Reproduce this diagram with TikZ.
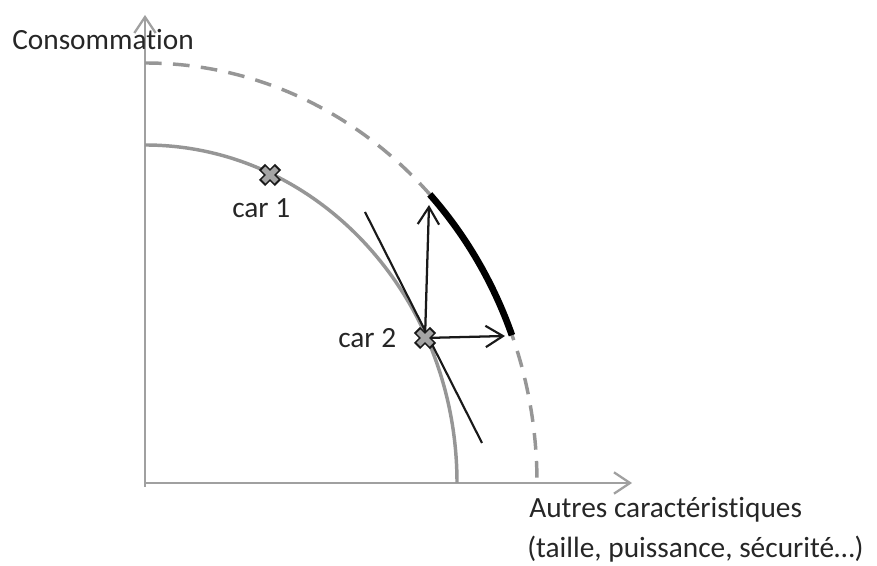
\documentclass[tikz,border=0pt]{standalone}
\usepackage{fontspec}
\setmainfont{Carlito}[Ligatures=NoCommon]
\usetikzlibrary{arrows.meta}
\definecolor{axisgray}{RGB}{160,160,160}
\definecolor{curvegray}{RGB}{150,150,150}
\definecolor{markgray}{RGB}{165,165,165}
\tikzset{
  axis/.style={draw=axisgray, line width=2.2pt,
    -{Straight Barb[length=12pt,width=16pt,line width=1.7pt]}},
  frontier/.style={draw=curvegray, line width=2.6pt},
  shift arrow/.style={draw=black!90, line width=1.7pt,
    -{Straight Barb[length=13pt,width=16pt,line width=1.6pt]}},
  label text/.style={font=\fontsize{22}{30}\selectfont, text=black!85, inner sep=0pt}
}
\begin{document}
\begin{tikzpicture}[x=0.75pt,y=0.75pt]
  \useasboundingbox (0,0) rectangle (877,566);
  % axes
  \coordinate (O) at (145,83);
  \coordinate (ytop) at (145,551);
  \coordinate (xend) at (632,83);
  \draw[axis] (145,79) -- (ytop);
  \draw[axis] (O) -- (xend);
  \node[label text, anchor=base west] (ylab) at (12,516) {Consommation};
  \node[label text, anchor=base west] (xlab) at (529,48) {Autres caractéristiques};
  \node[label text, anchor=base west] (xlab2) at (527,8) {(taille, puissance, sécurité…)};
  % frontiers
  \draw[frontier] (O) ++(0,338) arc[start angle=90, end angle=0, x radius=312, y radius=338];
  \draw[frontier, dash pattern=on 12.5pt off 8.5pt] (O) ++(0,420)
    arc[start angle=90, end angle=0, x radius=392, y radius=420];
  % new reachable part
  \draw[line width=5pt] (O) ++(43.4:392 and 420)
    arc[start angle=43.4, end angle=20.6, x radius=392, y radius=420];
  % tangent at car 2
  \coordinate (car1) at (270,391);
  \coordinate (car2) at (425,228);
  \coordinate (tanA) at (365,354);
  \coordinate (tanB) at (482,123);
  \draw[black!90, line width=1.6pt] (tanA) -- (tanB);
  % shifts
  \coordinate (upEnd) at (429,361);
  \coordinate (rightEnd) at (505,230);
  \draw[shift arrow] (car2) -- (upEnd);
  \draw[shift arrow] (car2) -- (rightEnd);
  % markers
  \foreach \p in {car1,car2} {
    \draw[black!90, line width=6.5pt] (\p) ++(-8,-8) -- ++(16,16);
    \draw[black!90, line width=6.5pt] (\p) ++(-8,8) -- ++(16,-16);
    \draw[markgray, line width=4pt] (\p) ++(-6.5,-6.5) -- ++(13,13);
    \draw[markgray, line width=4pt] (\p) ++(-6.5,6.5) -- ++(13,-13);
  }
  \node[label text, anchor=base west] (lab1) at (232,348) {car 1};
  \node[label text, anchor=base west] (lab2) at (338,218) {car 2};
\end{tikzpicture}
\end{document}
